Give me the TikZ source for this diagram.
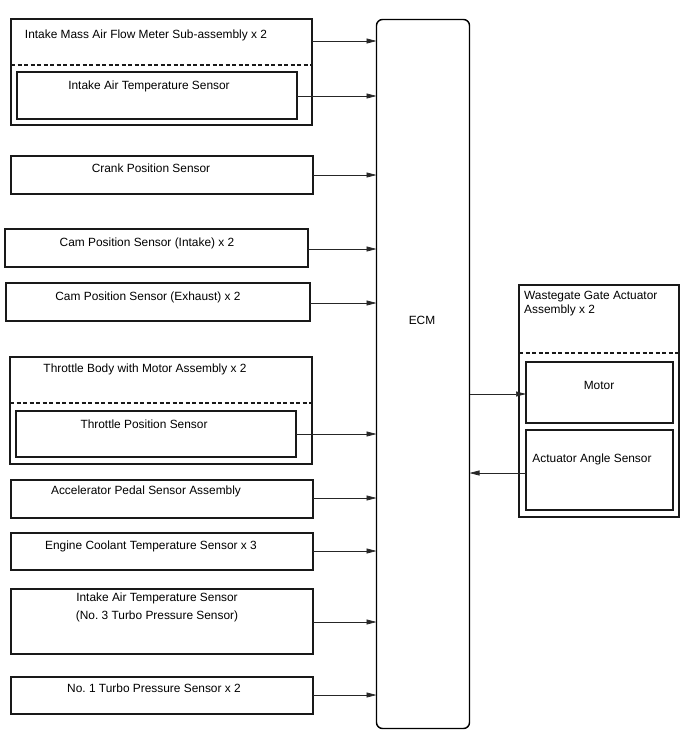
\documentclass[tikz,border=0pt]{standalone}
\usepackage{fontspec}
\setmainfont{Liberation Sans}
\frenchspacing
\usetikzlibrary{fit,arrows.meta}
\begin{document}
\begin{tikzpicture}[x=1pt,y=-1pt,
  every node/.style={font=\fontsize{11.9}{14}\selectfont, inner sep=0pt},
  box/.style={draw=black!90, line width=1.1pt, fit={#1}, inner sep=0pt, outer sep=0pt},
  dashline/.style={draw=black!90, line width=1.1pt, dash pattern=on 4pt off 2.5pt},
  arr/.style={draw=black!85, line width=0.7pt, -{Triangle[length=10pt,width=5pt]}},
  lbl/.style={anchor=base}
]
\useasboundingbox (0,0) rectangle (688,755);
% ECM
\node[box={(376.5,19.5)(469.5,728.5)}, rounded corners=6pt, draw=black, line width=1.4pt] (ecm) {};
\node[lbl] (ecmt) at (422,324) {ECM};
% Intake MAF
\node[box={(11,19)(312,125)}] (maf) {};
\coordinate (mafdl) at (11,65);
\coordinate (mafdr) at (312,65);
\draw[dashline] (mafdl) -- (mafdr);
\node[lbl] (maft) at (146,38) {Intake Mass Air Flow Meter Sub-assembly x 2};
\node[box={(17,72)(297,119)}] (iat) {};
\node[lbl] (iatt) at (149,89) {Intake Air Temperature Sensor};
% Crank
\node[box={(11,156)(313,194)}] (crank) {};
\node[lbl] (crankt) at (151,172) {Crank Position Sensor};
% Cam intake
\node[box={(5,229)(308,267)}] (camin) {};
\node[lbl] (camint) at (147,246) {Cam Position Sensor (Intake) x 2};
% Cam exhaust
\node[box={(6,283)(310,321)}] (camex) {};
\node[lbl] (camext) at (148,300) {Cam Position Sensor (Exhaust) x 2};
% Throttle body
\node[box={(10,357)(312,464)}] (tb) {};
\coordinate (tbdl) at (10,403);
\coordinate (tbdr) at (312,403);
\draw[dashline] (tbdl) -- (tbdr);
\node[lbl] (tbt) at (145,372) {Throttle Body with Motor Assembly x 2};
\node[box={(16,411)(296,457)}] (tps) {};
\node[lbl] (tpst) at (144,428) {Throttle Position Sensor};
% Accelerator
\node[box={(11,480)(313,518)}] (app) {};
\node[lbl] (appt) at (146,494) {Accelerator Pedal Sensor Assembly};
% ECT
\node[box={(11,533)(313,570)}] (ect) {};
\node[lbl] (ectt) at (151,549) {Engine Coolant Temperature Sensor x 3};
% IAT 2
\node[box={(11,589)(313,654)}] (iat2) {};
\node[align=center, font=\fontsize{11.9}{17.3}\selectfont] (iat2t) at (157,607.5) {Intake Air Temperature Sensor\\(No. 3 Turbo Pressure Sensor)};
% No 1 turbo
\node[box={(11,677)(313,714)}] (tp1) {};
\node[lbl] (tp1t) at (154,692) {No. 1 Turbo Pressure Sensor x 2};
% Wastegate
\node[box={(519,285)(679,517)}] (wg) {};
\coordinate (wgdl) at (519,353);
\coordinate (wgdr) at (679,353);
\draw[dashline] (wgdl) -- (wgdr);
\node[anchor=north west, align=left, font=\fontsize{11.9}{14}\selectfont] (wgt) at (524,291) {Wastegate Gate Actuator\\Assembly x 2};
\node[box={(526,362)(673,423)}] (motor) {};
\node[lbl] (motort) at (599,389) {Motor};
\node[box={(526,430)(673,510)}] (aas) {};
\node[lbl] (aast) at (592,462) {Actuator Angle Sensor};
% arrows
\draw[arr] (maf.east |- 0,41) -- (ecm.west |- 0,41);
\draw[arr] (iat.east |- 0,96) -- (ecm.west |- 0,96);
\draw[arr] (crank.east |- 0,175) -- (ecm.west |- 0,175);
\draw[arr] (camin.east |- 0,249) -- (ecm.west |- 0,249);
\draw[arr] (camex.east |- 0,303) -- (ecm.west |- 0,303);
\draw[arr] (tps.east |- 0,434) -- (ecm.west |- 0,434);
\draw[arr] (app.east |- 0,498) -- (ecm.west |- 0,498);
\draw[arr] (ect.east |- 0,551) -- (ecm.west |- 0,551);
\draw[arr] (iat2.east |- 0,622) -- (ecm.west |- 0,622);
\draw[arr] (tp1.east |- 0,695) -- (ecm.west |- 0,695);
\draw[arr] (ecm.east |- 0,394) -- (motor.west |- 0,394);
\draw[arr] (aas.west |- 0,473) -- (ecm.east |- 0,473);
\end{tikzpicture}
\end{document}
